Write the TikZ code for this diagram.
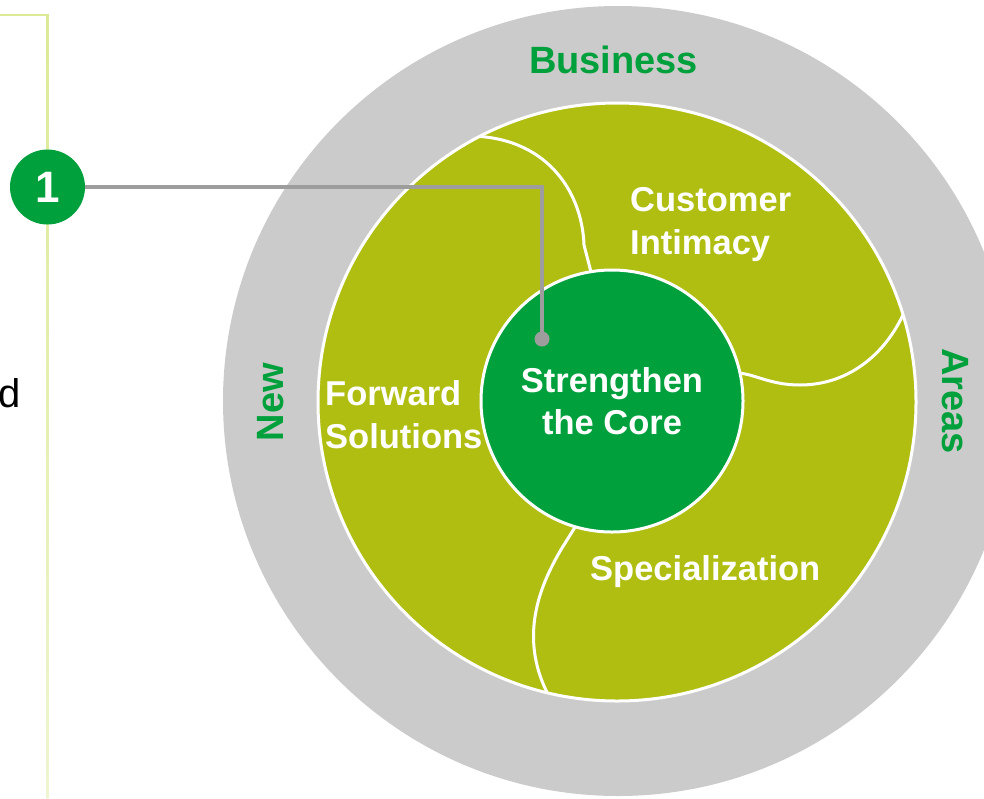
\documentclass[tikz,border=0pt]{standalone}
\usepackage{fontspec}
\setmainfont{Liberation Sans}
\definecolor{cGray}{RGB}{203,203,203}
\definecolor{cOlive}{RGB}{176,190,18}
\definecolor{cGreen}{RGB}{0,160,60}
\definecolor{cLine}{RGB}{157,157,157}
\definecolor{boxTop}{RGB}{220,234,150}
\definecolor{boxBot}{RGB}{238,245,208}
\begin{document}
\begin{tikzpicture}[x=1pt,y=-1pt,
  inlbl/.style={font=\bfseries\fontsize{34.5}{43}\selectfont, text=white, align=left, inner sep=0pt},
  outlbl/.style={font=\bfseries\fontsize{38}{44}\selectfont, text=cGreen, inner sep=0pt},
  divider/.style={white, line width=3pt},
  conn/.style={cLine, line width=3.5pt},
]
\useasboundingbox (0,0) rectangle (984,798);
% left frame
\shade[top color=boxTop, bottom color=boxBot] (46.5,14) rectangle (48.7,798);
\draw[boxTop, line width=2.2pt] (0,15) -- (48.7,15);
\node[anchor=base east, font=\fontsize{40}{48}\selectfont, inner sep=0pt] (d) at (21,407) {d};

% rings
\node[circle, fill=cGray, minimum size=790pt, inner sep=0pt] (ring) at (618,401) {};
\node[circle, fill=cOlive, draw=white, line width=3pt, minimum size=598pt, inner sep=0pt] (disc) at (617,402) {};

% dividers
\begin{scope}
\clip (617,402) circle (298pt);
\draw[divider] (468,136) .. controls (545,136) and (582,190) .. (584,245) -- (591,272);
\draw[divider] (906,308) .. controls (888,352) and (850,385) .. (800,385)
   .. controls (770,385) and (755,374) .. (738,373);
\draw[divider] (577,524) -- (562,548) .. controls (538,588) and (515,645) .. (556,708);
\end{scope}

% core
\node[circle, fill=cGreen, draw=white, line width=3pt, minimum size=262pt, inner sep=0pt,
      font=\bfseries\fontsize{34.5}{42}\selectfont, text=white, align=center] (core) at (612,401)
      {Strengthen\\the Core};

% labels
\node[inlbl, anchor=base west] (ci) at (630,254) {Customer\\Intimacy};
\node[inlbl, anchor=base west] (fs) at (325,448) {Forward\\Solutions};
\node[inlbl, anchor=base west] (sp) at (590,580) {Specialization};
\node[outlbl, anchor=base] (bus) at (613.5,73) {Business};
\node[outlbl, anchor=base, rotate=90] (new) at (283,402) {New};
\node[outlbl, anchor=base, rotate=-90] (areas) at (942,401) {Areas};

% connector
\coordinate (dot) at (542,339);
\node[circle, fill=cGreen, minimum size=75pt, inner sep=0pt, text=white,
      font=\bfseries\fontsize{44}{50}\selectfont] (b1) at (47.5,187) {1};
\draw[conn] (b1.east) -| (dot);
\fill[cLine] (dot) circle (7.5pt);
\end{tikzpicture}
\end{document}
